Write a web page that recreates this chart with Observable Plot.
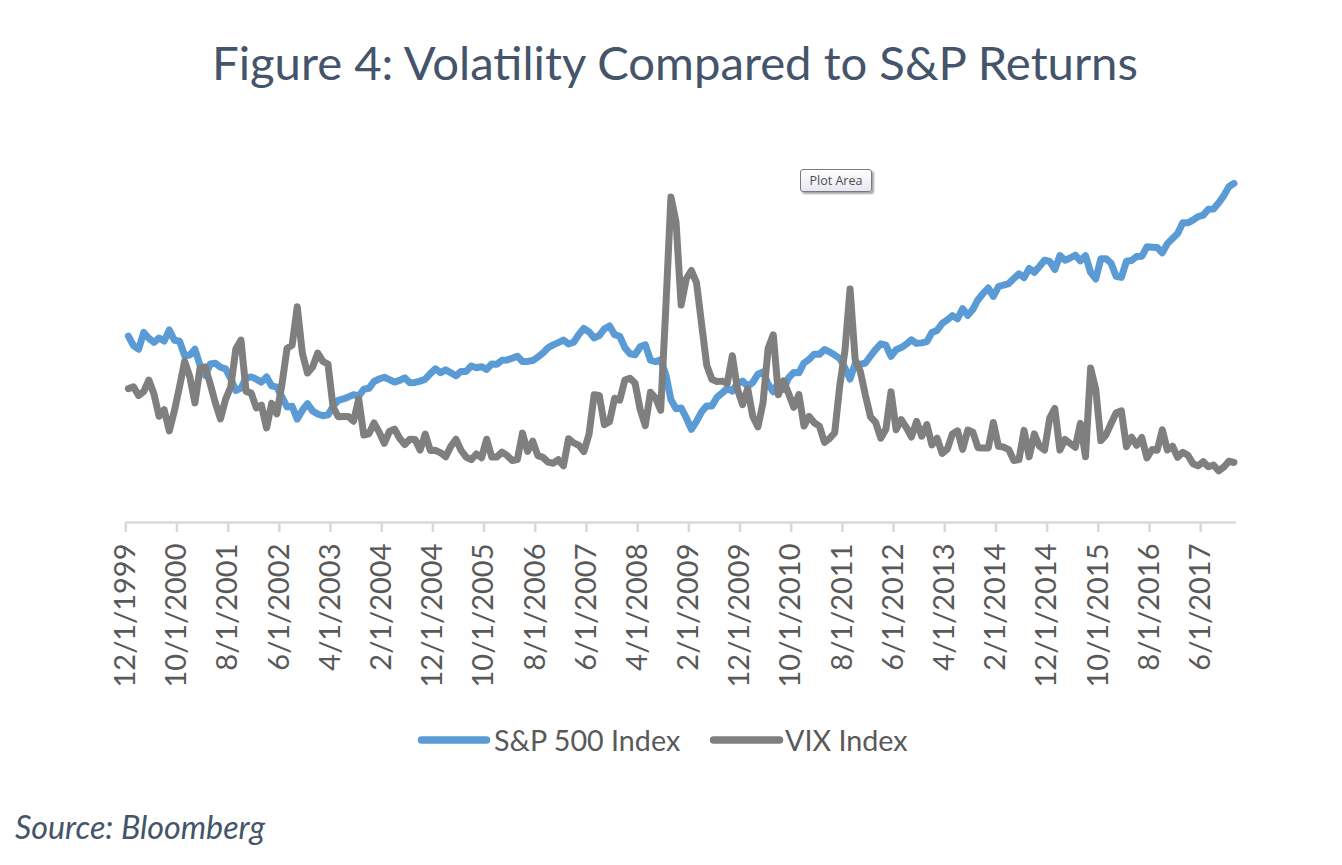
<!DOCTYPE html>
<html>
<head>
<meta charset="utf-8">
<script src="https://cdn.jsdelivr.net/npm/d3@7"></script>
<script src="https://cdn.jsdelivr.net/npm/@observablehq/plot@0.6"></script>
<style>
  html, body { margin: 0; padding: 0; background: #ffffff; }
  #page { position: relative; width: 1342px; height: 865px; overflow: hidden; background: #ffffff; }
  #chart { position: absolute; left: 0; top: 0; }
  #overlay { position: absolute; left: 0; top: 0; pointer-events: none; }
  #tip {
    position: absolute; left: 800px; top: 169px; width: 72px; height: 23px;
    box-sizing: border-box; border: 1px solid #7a7a7a; border-radius: 3px;
    background: linear-gradient(#ffffff, #e6e7f2);
    box-shadow: 2px 2px 2px rgba(0,0,0,0.35);
    font-family: "Open Sans", "Noto Sans", sans-serif; font-size: 12.5px; color: #4d4d4d;
    text-align: center; line-height: 21px; white-space: nowrap;
  }
</style>
</head>
<body>
<div id="page">
  <div id="chart"></div>
  <svg id="overlay" width="1342" height="865"></svg>
  <div id="tip">Plot Area</div>
</div>
<script>
// ---- Data (monthly, 12/1999 – 12/2017) ----
const startMonth = "1999-12-01";
const sp500 = [
  1469.25,
  1394.46,1366.42,1498.58,1452.43,1420.60,1454.60,1430.83,1517.68,1436.51,1429.40,1314.95,1320.28,
  1366.01,1239.94,1160.33,1249.46,1255.82,1224.42,1211.23,1133.58,1040.94,1059.78,1139.45,1148.08,
  1130.20,1106.73,1147.39,1076.92,1067.14,989.82,911.62,916.07,815.28,885.76,936.31,879.82,
  855.70,841.15,848.18,916.92,963.59,974.50,990.31,1008.01,995.97,1050.71,1058.20,1111.92,
  1131.13,1144.94,1126.21,1107.30,1120.68,1140.84,1101.72,1104.24,1114.58,1130.20,1173.82,1211.92,
  1181.27,1203.60,1180.59,1156.85,1191.50,1191.33,1234.18,1220.33,1228.81,1207.01,1249.48,1248.29,
  1280.08,1280.66,1294.83,1310.61,1270.09,1270.20,1276.66,1303.82,1335.85,1377.94,1400.63,1418.30,
  1438.24,1406.82,1420.86,1482.37,1530.62,1503.35,1455.27,1473.99,1526.75,1549.38,1481.14,1468.36,
  1378.55,1330.63,1322.70,1385.59,1400.38,1280.00,1267.38,1282.83,1166.36,968.75,896.24,903.25,
  825.88,735.09,797.87,872.81,919.14,919.32,987.48,1020.62,1057.08,1036.19,1095.63,1115.10,
  1073.87,1104.49,1169.43,1186.69,1089.41,1030.71,1101.60,1049.33,1141.20,1183.26,1180.55,1257.64,
  1286.12,1327.22,1325.83,1363.61,1345.20,1320.64,1292.28,1218.89,1131.42,1253.30,1246.96,1257.60,
  1312.41,1365.68,1408.47,1397.91,1310.33,1362.16,1379.32,1406.58,1440.67,1412.16,1416.18,1426.19,
  1498.11,1514.68,1569.19,1597.57,1630.74,1606.28,1685.73,1632.97,1681.55,1756.54,1805.81,1848.36,
  1782.59,1859.45,1872.34,1883.95,1923.57,1960.23,1930.67,2003.37,1972.29,2018.05,2067.56,2058.90,
  1994.99,2104.50,2067.89,2085.51,2107.39,2063.11,2103.84,1972.18,1920.03,2079.36,2080.41,2043.94,
  1940.24,1932.23,2059.74,2065.30,2096.95,2098.86,2173.60,2170.95,2168.27,2126.15,2198.81,2238.83,
  2278.87,2363.64,2362.72,2384.20,2411.80,2423.41,2470.30,2471.65,2519.36,2575.26,2647.58,2673.61
];
const vix = [
  24.64,
  24.95,23.37,24.11,26.20,23.65,19.54,20.74,16.84,20.57,25.00,29.66,26.85,
  22.00,28.40,28.64,25.48,22.00,19.06,22.70,24.92,31.93,33.56,24.12,23.80,
  21.09,21.59,17.40,21.91,19.98,25.40,32.03,32.64,39.69,31.10,27.50,28.62,
  31.17,29.63,29.15,21.21,19.47,19.52,19.49,18.63,22.72,16.10,16.32,18.31,
  16.63,14.55,16.74,17.19,15.50,14.34,15.32,15.29,13.34,16.27,13.24,13.29,
  12.82,12.08,14.02,15.31,13.29,12.04,11.57,12.60,11.92,15.32,12.06,12.07,
  12.95,12.34,11.39,11.59,16.44,13.08,14.95,12.31,11.98,11.10,10.91,11.56,
  10.42,15.42,14.64,14.22,13.05,16.23,23.52,23.38,18.00,18.53,22.87,22.50,
  26.20,26.54,25.61,20.79,17.83,23.95,22.94,20.65,39.39,59.89,55.28,40.00,
  44.84,46.35,44.14,36.50,28.92,26.35,25.92,26.01,25.61,30.69,24.51,21.68,
  24.62,19.50,17.59,22.05,32.07,34.54,23.50,26.05,23.70,21.20,23.54,17.75,
  19.53,18.35,17.74,14.75,15.45,16.52,25.25,31.62,42.96,29.96,27.80,23.40,
  19.44,18.43,15.50,17.15,24.06,17.08,18.93,17.47,15.73,18.60,15.87,18.02,
  14.28,15.51,12.70,13.52,16.30,16.86,13.45,17.01,16.60,13.75,13.70,13.72,
  18.41,14.00,13.88,13.41,11.40,11.57,16.95,12.09,16.31,14.03,13.33,19.20,
  20.97,13.34,15.29,14.55,13.84,18.23,12.12,28.43,24.50,15.07,16.13,18.21,
  20.20,20.55,13.95,15.70,14.19,15.63,11.87,13.42,13.29,17.06,13.33,14.04,
  11.99,12.92,12.37,10.82,10.41,11.18,10.26,10.59,9.51,10.18,11.28,11.04
];
const tickLabels = [
  "12/1/1999","10/1/2000","8/1/2001","6/1/2002","4/1/2003","2/1/2004","12/1/2004",
  "10/1/2005","8/1/2006","6/1/2007","4/1/2008","2/1/2009","12/1/2009","10/1/2010",
  "8/1/2011","6/1/2012","4/1/2013","2/1/2014","12/1/2014","10/1/2015","8/1/2016","6/1/2017"
];
const seriesNames = ["S&P 500 Index", "VIX Index"];
const seriesColors = ["#5B9BD5", "#7F7F7F"];
const primaryMax = 3000;   // S&P axis (hidden)
const secondaryMax = 70;   // VIX axis (hidden)

// ---- Categories ----
const fmt = d3.utcFormat("%-m/%-d/%Y");
const start = new Date(startMonth + "T00:00:00Z");
const categories = d3.utcMonth.range(start, d3.utcMonth.offset(start, sp500.length)).map(fmt);
const data = categories.map((c, i) => ({i, date: c, sp: sp500[i], vix: vix[i]}));
const tickPos = tickLabels.map(l => categories.indexOf(l) - 0.5);
const labelOf = new Map(tickPos.map((p, k) => [p, tickLabels[k]]));

const n = categories.length;
const chart = Plot.plot({
  width: 1342,
  height: 700,
  marginLeft: 125.3,
  marginRight: 106,
  marginTop: 141.5,
  marginBottom: 178,
  x: {domain: [-0.5, n - 0.5], label: null},
  y: {domain: [0, primaryMax], axis: null},
  style: {fontFamily: "Lato, 'Open Sans', sans-serif", background: "transparent", overflow: "visible"},
  marks: [
    Plot.ruleY([0], {stroke: "#D9D9D9", strokeWidth: 2.5}),
    Plot.axisX(tickPos, {tickSize: 10, tickFormat: () => "", color: "#D9D9D9", strokeWidth: 2.5, label: null}),
    Plot.axisX(tickPos, {tickSize: 0, tickPadding: 21, tickRotate: -90, tickFormat: d => labelOf.get(d),
      color: "#595959", fontSize: 29, label: null}),
    Plot.line(data, {x: "i", y: "sp", stroke: seriesColors[0], strokeWidth: 7,
      strokeLinecap: "round", strokeLinejoin: "round"}),
    Plot.line(data, {x: "i", y: d => d.vix * primaryMax / secondaryMax, stroke: seriesColors[1], strokeWidth: 7,
      strokeLinecap: "round", strokeLinejoin: "round"})
  ]
});
document.getElementById("chart").appendChild(chart);

// ---- Title, legend, source ----
const ov = d3.select("#overlay");
const title = ov.append("text").attr("x", 675).attr("y", 80).attr("text-anchor", "middle")
  .attr("font-family", "Lato, 'Open Sans', sans-serif").attr("font-size", 44).attr("fill", "#44546A")
  .text("Figure 4: Volatility Compared to S&P Returns");

const legend = [
  {x1: 418, x2: 490, tx: 494, w: 179},
  {x1: 710, x2: 783, tx: 785, w: 155}
];
const legTexts = legend.map((l, k) => {
  ov.append("line").attr("x1", l.x1 + 3.5).attr("x2", l.x2 - 3.5).attr("y1", 740).attr("y2", 740)
    .attr("stroke", seriesColors[k]).attr("stroke-width", 7.5).attr("stroke-linecap", "round");
  return ov.append("text").attr("x", l.tx).attr("y", 751)
    .attr("font-family", "Lato, 'Open Sans', sans-serif").attr("font-size", 28).attr("fill", "#595959")
    .text(seriesNames[k]);
});
const source = ov.append("text").attr("x", 15).attr("y", 839)
  .attr("font-family", "Lato, 'Open Sans', sans-serif").attr("font-style", "italic")
  .attr("font-size", 28).attr("fill", "#44546A").text("Source: Bloomberg");

function fitSize(sel, w) {
  const len = sel.node().getComputedTextLength();
  const fs = parseFloat(sel.attr("font-size"));
  return len > 0 ? fs * w / len : fs;
}
function fitAll() {
  title.attr("font-size", fitSize(title, 926));
  const s = fitSize(legTexts[0], legend[0].w) * 1.04;
  legTexts.forEach(t => t.attr("font-size", s));
  source.attr("font-size", fitSize(source, 250));
}
fitAll();
if (document.fonts && document.fonts.ready) document.fonts.ready.then(fitAll);
</script>
</body>
</html>
